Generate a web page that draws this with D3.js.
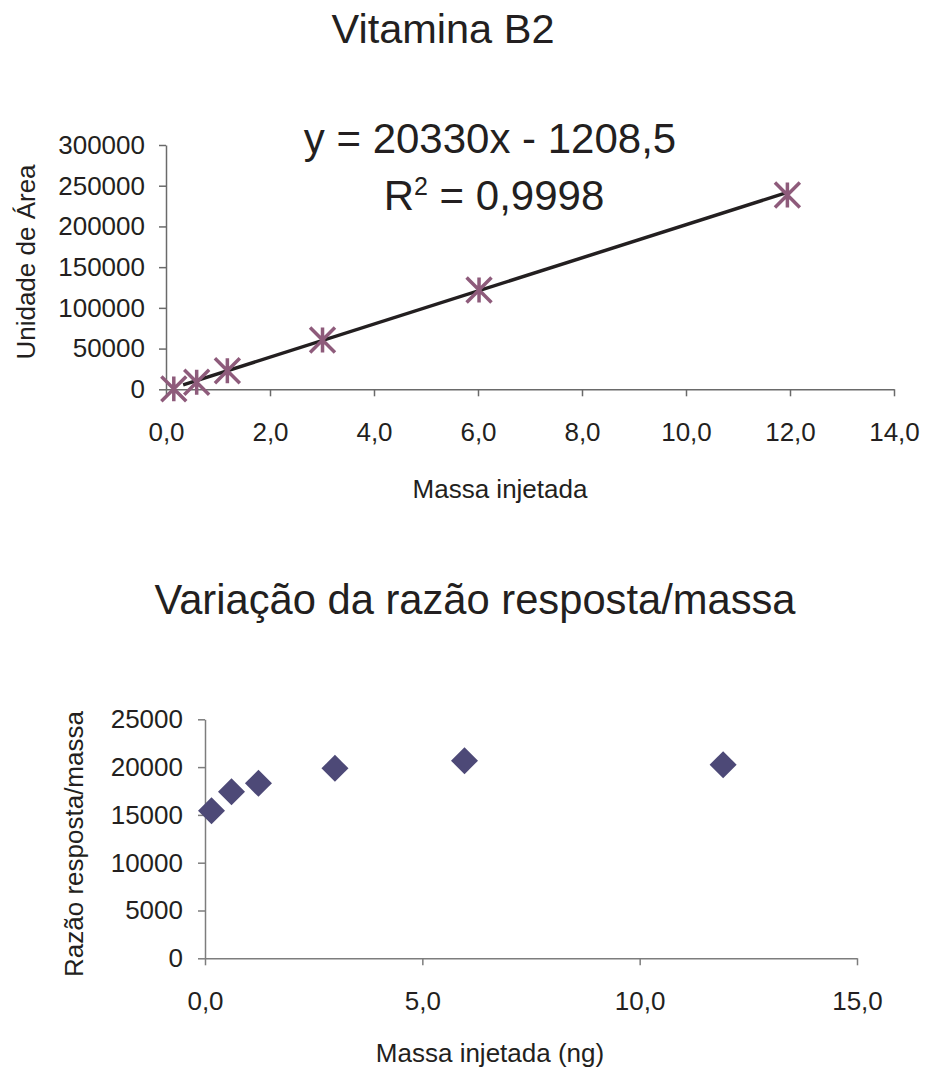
<!DOCTYPE html>
<html>
<head>
<meta charset="utf-8">
<script src="https://cdn.jsdelivr.net/npm/d3@7"></script>
<style>
  html, body { margin: 0; padding: 0; background: #fff; }
  svg { display: block; }
  text { font-family: "Liberation Sans", Arial, sans-serif; fill: #231f20; }
</style>
</head>
<body>
<svg id="chart" width="928" height="1074"></svg>
<script>
// ---------- Data ----------
const chart1Title = "Vitamina B2";
const chart1Mass = [0.15, 0.59, 1.18, 3.01, 6.02, 11.95];
const chart1Area = [500, 8600, 22800, 60500, 121900, 238600];
const fitSlope = 20330;
const fitIntercept = -1208.5;
const fitRange = [0.33, 11.95];
const equationText = "y = 20330x - 1208,5";
const r2Value = "0,9998";
const chart1XTicks = [0, 2, 4, 6, 8, 10, 12, 14];
const chart1YTicks = [0, 50000, 100000, 150000, 200000, 250000, 300000];
const chart1XLabel = "Massa injetada";
const chart1YLabel = "Unidade de Área";

const chart2Title = "Variação da razão resposta/massa";
const chart2Mass = [0.15, 0.61, 1.23, 2.99, 5.97, 11.92];
const chart2Ratio = [15440, 17430, 18300, 19870, 20670, 20250];
const chart2XTicks = [0, 5, 10, 15];
const chart2YTicks = [0, 5000, 10000, 15000, 20000, 25000];
const chart2XLabel = "Massa injetada (ng)";
const chart2YLabel = "Razão resposta/massa";

// ---------- Helpers ----------
const svg = d3.select("#chart");
const fmtDec = v => d3.format(".1f")(v).replace(".", ",");
const fmtInt = v => d3.format("d")(v);
const textColor = "#231f20";

// Custom star marker (vertical bar + X), drawn through d3.symbol
const starSymbol = {
  draw(ctx, size) {
    const r = Math.sqrt(size) / 2;
    ctx.moveTo(0, -r); ctx.lineTo(0, r);
    ctx.moveTo(-r, -r); ctx.lineTo(r, r);
    ctx.moveTo(-r, r); ctx.lineTo(r, -r);
  }
};

function drawAxes(g, x, y, xTicks, yTicks, xFmt, axisColor, yPad) {
  const xAxis = d3.axisBottom(x).tickValues(xTicks).tickSize(7).tickSizeOuter(0).tickFormat(xFmt);
  const yAxis = d3.axisLeft(y).tickValues(yTicks).tickSize(7).tickSizeOuter(0).tickPadding(yPad).tickFormat(fmtInt);
  const gx = g.append("g").attr("transform", `translate(0,${y(0)})`).call(xAxis);
  const gy = g.append("g").attr("transform", `translate(${x(0)},0)`).call(yAxis);
  [gx, gy].forEach(a => {
    a.select(".domain").attr("stroke", axisColor).attr("stroke-width", 1.5);
    a.selectAll(".tick line").attr("stroke", axisColor).attr("stroke-width", 1.5);
    a.selectAll("text").attr("fill", textColor).style("font-size", "26px")
      .style("font-family", '"Liberation Sans", Arial, sans-serif');
  });
  gx.selectAll(".tick text").attr("dy", null).attr("y", 52);
  return { gx, gy };
}

// ---------- Chart 1 ----------
const x1 = d3.scaleLinear().domain([0, 14]).range([166, 894]);
const y1 = d3.scaleLinear().domain([0, 300000]).range([389.3, 145]);
const g1 = svg.append("g");

svg.append("text").attr("x", 443).attr("y", 43).attr("text-anchor", "middle")
  .style("font-size", "41.5px").text(chart1Title);

drawAxes(g1, x1, y1, chart1XTicks, chart1YTicks, fmtDec, "#6a6a6a", 14);

// trend line
const fitPts = fitRange.map(m => [m, fitSlope * m + fitIntercept]);
g1.append("path")
  .attr("d", d3.line().x(d => x1(d[0])).y(d => y1(d[1]))(fitPts))
  .attr("stroke", textColor).attr("stroke-width", 3.5).attr("fill", "none");

// star markers
g1.selectAll("path.star").data(chart1Mass).join("path")
  .attr("class", "star")
  .attr("transform", (d, i) => `translate(${x1(d)},${y1(chart1Area[i])})`)
  .attr("d", d3.symbol().type(starSymbol).size(620))
  .attr("stroke", "#8e5b7b").attr("stroke-width", 3.5).attr("fill", "none");

// equation
svg.append("text").attr("x", 490).attr("y", 153).attr("text-anchor", "middle")
  .style("font-size", "42px").text(equationText);
const r2 = svg.append("text").attr("x", 494).attr("y", 210).attr("text-anchor", "middle")
  .style("font-size", "42px");
r2.append("tspan").text("R");
r2.append("tspan").attr("dy", -15).style("font-size", "25px").text("2");
r2.append("tspan").attr("dy", 15).text(" = " + r2Value);

// axis titles
svg.append("text").attr("x", 500).attr("y", 498).attr("text-anchor", "middle")
  .style("font-size", "26px").text(chart1XLabel);
svg.append("text").attr("transform", "translate(35,262) rotate(-90)").attr("text-anchor", "middle")
  .style("font-size", "26px").text(chart1YLabel);

// ---------- Chart 2 ----------
const x2 = d3.scaleLinear().domain([0, 15]).range([205, 857]);
const y2 = d3.scaleLinear().domain([0, 25000]).range([958.3, 719.3]);
const g2 = svg.append("g");

svg.append("text").attr("x", 475).attr("y", 614).attr("text-anchor", "middle")
  .style("font-size", "41.7px").text(chart2Title);

drawAxes(g2, x2, y2, chart2XTicks, chart2YTicks, fmtDec, "#7d7d7d", 15);

g2.selectAll("path.diamond").data(chart2Mass).join("path")
  .attr("class", "diamond")
  .attr("transform", (d, i) => `translate(${x2(d)},${y2(chart2Ratio[i])}) rotate(45)`)
  .attr("d", d3.symbol().type(d3.symbolSquare).size(365))
  .attr("fill", "#4d4977");

svg.append("text").attr("x", 490).attr("y", 1062).attr("text-anchor", "middle")
  .style("font-size", "26px").text(chart2XLabel);
svg.append("text").attr("transform", "translate(83,844) rotate(-90)").attr("text-anchor", "middle")
  .style("font-size", "26px").text(chart2YLabel);
</script>
</body>
</html>
